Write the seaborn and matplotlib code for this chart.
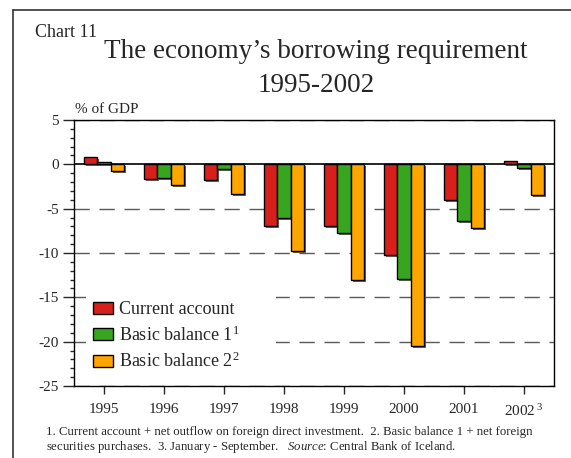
import matplotlib
matplotlib.use("Agg")
import matplotlib.pyplot as plt
import matplotlib.patheffects as pe
from matplotlib.lines import Line2D
from matplotlib.ticker import MultipleLocator
import seaborn as sns
import pandas as pd

years = ["1995", "1996", "1997", "1998", "1999", "2000", "2001", "2002"]
tick_labels = ["1995", "1996", "1997", "1998", "1999", "2000", "2001", "2002$\\,^{3}$"]
current_account = [0.8, -1.7, -1.8, -7.0, -7.0, -10.2, -4.0, 0.4]
basic_balance_1 = [0.3, -1.5, -0.5, -6.0, -7.7, -12.9, -6.4, -0.4]
basic_balance_2 = [-0.7, -2.3, -3.3, -9.8, -13.0, -20.5, -7.2, -3.5]
series_names = ["Current account", "Basic balance 1$^{1}$", "Basic balance 2$^{2}$"]
colors = ["#d7201c", "#38a520", "#ffa500"]

rows = []
for name, vals in zip(series_names, [current_account, basic_balance_1, basic_balance_2]):
    for y, v in zip(years, vals):
        rows.append({"year": y, "series": name, "value": v})
df = pd.DataFrame(rows)

sns.set_style("white")
plt.rcParams["font.family"] = ["Liberation Serif", "DejaVu Serif"]
plt.rcParams["mathtext.fontset"] = "custom"
plt.rcParams["mathtext.rm"] = "Liberation Serif"
plt.rcParams["mathtext.it"] = "Liberation Serif:italic"
plt.rcParams["axes.unicode_minus"] = False

fig = plt.figure(figsize=(5.71, 4.58), dpi=100)
ax = fig.add_axes([74/571, 1-386/458, 480/571, 266/458])

sns.barplot(data=df, x="year", y="value", hue="series", palette=colors,
            width=0.66, gap=0, edgecolor="black", linewidth=1.0,
            saturation=1, ax=ax, legend=False, zorder=3)

for p in ax.patches:
    p.set_path_effects([pe.SimplePatchShadow(offset=(1.5, -1.5), shadow_rgbFace="0.35", alpha=0.9),
                        pe.Normal()])

ax.set_xlim(-0.5, 7.5)
ax.set_ylim(-25, 5)
ax.yaxis.set_major_locator(MultipleLocator(5))
ax.yaxis.set_minor_locator(MultipleLocator(1))
ax.set_xticks(range(len(years)))
ax.set_xticklabels(tick_labels, fontsize=11)
ax.tick_params(axis="y", which="major", direction="out", length=8, width=1, labelsize=11, pad=3, left=True)
ax.tick_params(axis="y", which="minor", direction="out", length=3, width=1, left=True)
ax.tick_params(axis="x", which="major", direction="out", length=6, width=1, pad=6, bottom=True)
ax.set_xlabel("")
ax.set_ylabel("")

for v in [5, -5, -10, -15, -20, -25]:
    ax.axhline(v, color="0.35", lw=1.0, ls=(0, (11, 7)), zorder=1)
ax.axhline(0, color="black", lw=1.2, zorder=2)

for s in ax.spines.values():
    s.set_visible(True)
    s.set_color("black")
    s.set_linewidth(1.0)

handles = [plt.Rectangle((0, 0), 1, 1, facecolor=c, edgecolor="black", lw=1) for c in colors]
leg = ax.legend(handles, series_names, loc="upper left",
                bbox_to_anchor=(12/480, 0.045, 190/480, 0.30), mode="expand",
                fontsize=13, frameon=True, fancybox=False, framealpha=1,
                handlelength=1.1, handleheight=0.65, handletextpad=0.35,
                labelspacing=0.38, borderpad=0.4, borderaxespad=0)
leg.get_frame().set_facecolor("white")
leg.get_frame().set_edgecolor("none")
leg.set_zorder(4)

fig.text(75/571, 1-113/458, "% of GDP", fontsize=11, ha="left", va="baseline")
fig.text(35/571, 1-37/458, "Chart 11", fontsize=13, ha="left", va="baseline")
fig.text(316/571, 1-51/458, "The economy\u2019s borrowing requirement", fontsize=19.5, ha="center", va="center")
fig.text(316/571, 1-86/458, "1995-2002", fontsize=19.5, ha="center", va="center")
fig.text(46/571, 1-432/458,
         "1. Current account + net outflow on foreign direct investment.  2. Basic balance 1 + net foreign",
         fontsize=9.2, ha="left", va="center")
fig.text(46/571, 1-447/458,
         "securities purchases.  3. January - September.   $\\it{Source}$: Central Bank of Iceland.",
         fontsize=9.2, ha="left", va="center")

fig.add_artist(Line2D([13/571, 13/571], [0, 1-10/458], transform=fig.transFigure, color="0.2", lw=1.2))
fig.add_artist(Line2D([13/571, 1], [1-10/458, 1-10/458], transform=fig.transFigure, color="0.2", lw=1.2))

fig.savefig("out.png", dpi=100)
